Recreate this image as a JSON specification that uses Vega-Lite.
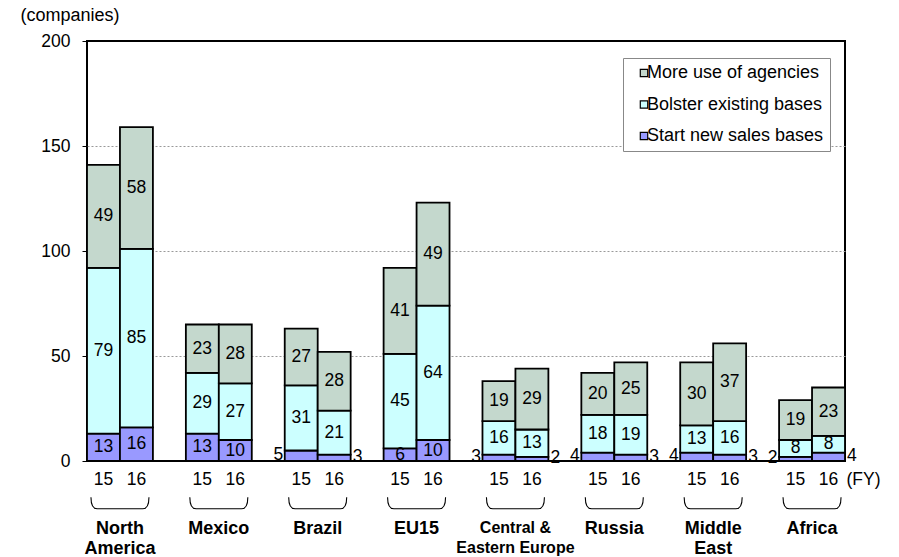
{
  "$schema": "https://vega.github.io/schema/vega-lite/v6.json",
  "autosize": "none",
  "padding": {"left": 87, "top": 41, "right": 54, "bottom": 96},
  "width": 758,
  "height": 420,
  "background": "white",
  "config": {
    "font": "Liberation Sans",
    "view": {"stroke": "black", "strokeWidth": 2},
    "axis": {"labelColor": "black", "titleColor": "black", "labelFont": "Liberation Sans", "titleFont": "Liberation Sans"},
    "legend": {"labelColor": "black", "labelFont": "Liberation Sans"},
    "text": {"font": "Liberation Sans"}
  },
  "layer": [
    {
      "data": {
        "values": [
          {"region": "North America", "year": "15", "type": "Start new sales bases", "value": 13},
          {"region": "North America", "year": "15", "type": "Bolster existing bases", "value": 79},
          {"region": "North America", "year": "15", "type": "More use of agencies", "value": 49},
          {"region": "North America", "year": "16", "type": "Start new sales bases", "value": 16},
          {"region": "North America", "year": "16", "type": "Bolster existing bases", "value": 85},
          {"region": "North America", "year": "16", "type": "More use of agencies", "value": 58},
          {"region": "Mexico", "year": "15", "type": "Start new sales bases", "value": 13},
          {"region": "Mexico", "year": "15", "type": "Bolster existing bases", "value": 29},
          {"region": "Mexico", "year": "15", "type": "More use of agencies", "value": 23},
          {"region": "Mexico", "year": "16", "type": "Start new sales bases", "value": 10},
          {"region": "Mexico", "year": "16", "type": "Bolster existing bases", "value": 27},
          {"region": "Mexico", "year": "16", "type": "More use of agencies", "value": 28},
          {"region": "Brazil", "year": "15", "type": "Start new sales bases", "value": 5},
          {"region": "Brazil", "year": "15", "type": "Bolster existing bases", "value": 31},
          {"region": "Brazil", "year": "15", "type": "More use of agencies", "value": 27},
          {"region": "Brazil", "year": "16", "type": "Start new sales bases", "value": 3},
          {"region": "Brazil", "year": "16", "type": "Bolster existing bases", "value": 21},
          {"region": "Brazil", "year": "16", "type": "More use of agencies", "value": 28},
          {"region": "EU15", "year": "15", "type": "Start new sales bases", "value": 6},
          {"region": "EU15", "year": "15", "type": "Bolster existing bases", "value": 45},
          {"region": "EU15", "year": "15", "type": "More use of agencies", "value": 41},
          {"region": "EU15", "year": "16", "type": "Start new sales bases", "value": 10},
          {"region": "EU15", "year": "16", "type": "Bolster existing bases", "value": 64},
          {"region": "EU15", "year": "16", "type": "More use of agencies", "value": 49},
          {"region": "Central & Eastern Europe", "year": "15", "type": "Start new sales bases", "value": 3},
          {"region": "Central & Eastern Europe", "year": "15", "type": "Bolster existing bases", "value": 16},
          {"region": "Central & Eastern Europe", "year": "15", "type": "More use of agencies", "value": 19},
          {"region": "Central & Eastern Europe", "year": "16", "type": "Start new sales bases", "value": 2},
          {"region": "Central & Eastern Europe", "year": "16", "type": "Bolster existing bases", "value": 13},
          {"region": "Central & Eastern Europe", "year": "16", "type": "More use of agencies", "value": 29},
          {"region": "Russia", "year": "15", "type": "Start new sales bases", "value": 4},
          {"region": "Russia", "year": "15", "type": "Bolster existing bases", "value": 18},
          {"region": "Russia", "year": "15", "type": "More use of agencies", "value": 20},
          {"region": "Russia", "year": "16", "type": "Start new sales bases", "value": 3},
          {"region": "Russia", "year": "16", "type": "Bolster existing bases", "value": 19},
          {"region": "Russia", "year": "16", "type": "More use of agencies", "value": 25},
          {"region": "Middle East", "year": "15", "type": "Start new sales bases", "value": 4},
          {"region": "Middle East", "year": "15", "type": "Bolster existing bases", "value": 13},
          {"region": "Middle East", "year": "15", "type": "More use of agencies", "value": 30},
          {"region": "Middle East", "year": "16", "type": "Start new sales bases", "value": 3},
          {"region": "Middle East", "year": "16", "type": "Bolster existing bases", "value": 16},
          {"region": "Middle East", "year": "16", "type": "More use of agencies", "value": 37},
          {"region": "Africa", "year": "15", "type": "Start new sales bases", "value": 2},
          {"region": "Africa", "year": "15", "type": "Bolster existing bases", "value": 8},
          {"region": "Africa", "year": "15", "type": "More use of agencies", "value": 19},
          {"region": "Africa", "year": "16", "type": "Start new sales bases", "value": 4},
          {"region": "Africa", "year": "16", "type": "Bolster existing bases", "value": 8},
          {"region": "Africa", "year": "16", "type": "More use of agencies", "value": 23}
        ]
      },
      "transform": [
        {"calculate": "datum.region + '|' + datum.year", "as": "slot"},
        {"calculate": "indexof(['Start new sales bases', 'Bolster existing bases', 'More use of agencies'], datum.type)", "as": "k"},
        {"stack": "value", "groupby": ["slot"], "sort": [{"field": "k", "order": "ascending"}], "as": ["v0", "v1"]},
        {"calculate": "(datum.v0 + datum.v1) / 2", "as": "mid"}
      ],
      "encoding": {
        "x": {
          "field": "slot",
          "type": "nominal",
          "sort": null,
          "scale": {
            "type": "band",
            "paddingInner": 0,
            "paddingOuter": 0,
            "domain": [
              "North America|15", "North America|16", "gap1",
              "Mexico|15", "Mexico|16", "gap2",
              "Brazil|15", "Brazil|16", "gap3",
              "EU15|15", "EU15|16", "gap4",
              "Central & Eastern Europe|15", "Central & Eastern Europe|16", "gap5",
              "Russia|15", "Russia|16", "gap6",
              "Middle East|15", "Middle East|16", "gap7",
              "Africa|15", "Africa|16"
            ]
          },
          "axis": {
            "orient": "bottom",
            "labelExpr": "indexof(datum.value, '|') >= 0 ? split(datum.value, '|')[1] : ''",
            "labelAngle": 0,
            "labelFont": "Liberation Sans",
            "labelFontSize": 17.5,
            "labelPadding": 9,
            "labelOverlap": false,
            "domain": false,
            "ticks": false,
            "tickSize": 0,
            "grid": false,
            "title": "(FY)",
            "titleFont": "Liberation Sans",
            "titleFontSize": 17.5,
            "titleFontWeight": "normal",
            "titleX": 759,
            "titleY": 9,
            "titleAlign": "left",
            "titleBaseline": "top",
            "titleAnchor": "start"
          }
        }
      },
      "layer": [
        {
          "mark": {"type": "bar", "stroke": "black", "strokeWidth": 1.8},
          "encoding": {
            "y": {
              "field": "v0",
              "type": "quantitative",
              "scale": {"domain": [0, 200], "nice": false, "zero": true},
              "axis": {
                "values": [0, 50, 100, 150, 200],
                "domain": false,
                "tickSize": 5,
                "tickColor": "black",
                "labelFont": "Liberation Sans",
                "labelFontSize": 17.5,
                "labelPadding": 12,
                "grid": true,
                "gridColor": "#999999",
                "gridDash": [2, 2],
                "gridWidth": 1,
                "gridOpacity": {"condition": {"test": "datum.value == 0 || datum.value == 200", "value": 0}, "value": 1},
                "title": "(companies)",
                "titleFont": "Liberation Sans",
                "titleAngle": 0,
                "titleX": -67,
                "titleY": -26,
                "titleAlign": "left",
                "titleAnchor": "start",
                "titleBaseline": "middle",
                "titleFontSize": 18,
                "titleFontWeight": "normal"
              }
            },
            "y2": {"field": "v1"},
            "color": {
              "field": "type",
              "type": "nominal",
              "scale": {
                "domain": ["More use of agencies", "Bolster existing bases", "Start new sales bases"],
                "range": ["#c4d8cd", "#ccffff", "#9999ff"]
              },
              "legend": {
                "title": null,
                "orient": "none",
                "legendX": 536,
                "legendY": 17,
                "symbolType": "square",
                "symbolSize": 55,
                "symbolStrokeColor": "black",
                "symbolStrokeWidth": 1.2,
                "labelFont": "Liberation Sans",
                "labelFontSize": 18,
                "labelLimit": 300,
                "labelOffset": -6,
                "rowPadding": 13.5,
                "padding": 6,
                "symbolOffset": 6,
                "strokeColor": "#888888",
                "fillColor": "white"
              }
            }
          }
        },
        {
          "transform": [{"filter": "!(datum.type == 'Start new sales bases' && datum.value <= 5)"}],
          "mark": {"type": "text", "font": "Liberation Sans", "fontSize": 17.5, "color": "black", "baseline": "middle"},
          "encoding": {
            "y": {"field": "mid", "type": "quantitative"},
            "text": {"field": "value", "type": "quantitative"}
          }
        },
        {
          "transform": [{"filter": "datum.type == 'Start new sales bases' && datum.value <= 5 && datum.year == '15'"}],
          "mark": {"type": "text", "font": "Liberation Sans", "fontSize": 17.5, "color": "black", "baseline": "middle", "align": "right", "dx": -18, "dy": -1},
          "encoding": {
            "y": {"field": "mid", "type": "quantitative"},
            "text": {"field": "value", "type": "quantitative"}
          }
        },
        {
          "transform": [{"filter": "datum.type == 'Start new sales bases' && datum.value <= 5 && datum.year == '16'"}],
          "mark": {"type": "text", "font": "Liberation Sans", "fontSize": 17.5, "color": "black", "baseline": "middle", "align": "left", "dx": 18.5, "dy": -1},
          "encoding": {
            "y": {"field": "mid", "type": "quantitative"},
            "text": {"field": "value", "type": "quantitative"}
          }
        }
      ]
    },
    {
      "data": {
        "values": [
          {"region": "North America"},
          {"region": "Mexico"},
          {"region": "Brazil"},
          {"region": "EU15"},
          {"region": "Central & Eastern Europe"},
          {"region": "Russia"},
          {"region": "Middle East"},
          {"region": "Africa"}
        ]
      },
      "mark": {
        "type": "point",
        "shape": "M -1 -0.2 Q -1 0.2 -0.78 0.2 L 0.78 0.2 Q 1 0.2 1 -0.2",
        "size": 3364,
        "filled": false,
        "stroke": "black",
        "strokeWidth": 1.1,
        "opacity": 1
      },
      "encoding": {
        "x": {
          "field": "region",
          "type": "nominal",
          "sort": null,
          "scale": {"type": "band", "paddingInner": 0.3333, "paddingOuter": 0},
          "axis": {
            "orient": "bottom",
            "labelExpr": "datum.value == 'North America' ? ['North', 'America'] : datum.value == 'Middle East' ? ['Middle', 'East'] : datum.value == 'Central & Eastern Europe' ? ['Central &', 'Eastern Europe'] : datum.value",
            "labelAngle": 0,
            "labelFont": "Liberation Sans",
            "labelFontWeight": "bold",
            "labelFontSize": {"condition": {"test": "datum.value == 'Central & Eastern Europe'", "value": 16}, "value": 18},
            "labelLineHeight": 20,
            "labelPadding": 58,
            "labelOverlap": false,
            "domain": false,
            "ticks": false,
            "tickSize": 0,
            "grid": false,
            "title": null
          }
        },
        "y": {"datum": -20, "type": "quantitative", "scale": {"domain": [0, 200], "nice": false}}
      }
    }
  ],
  "resolve": {"scale": {"x": "independent"}, "axis": {"x": "independent"}}
}
